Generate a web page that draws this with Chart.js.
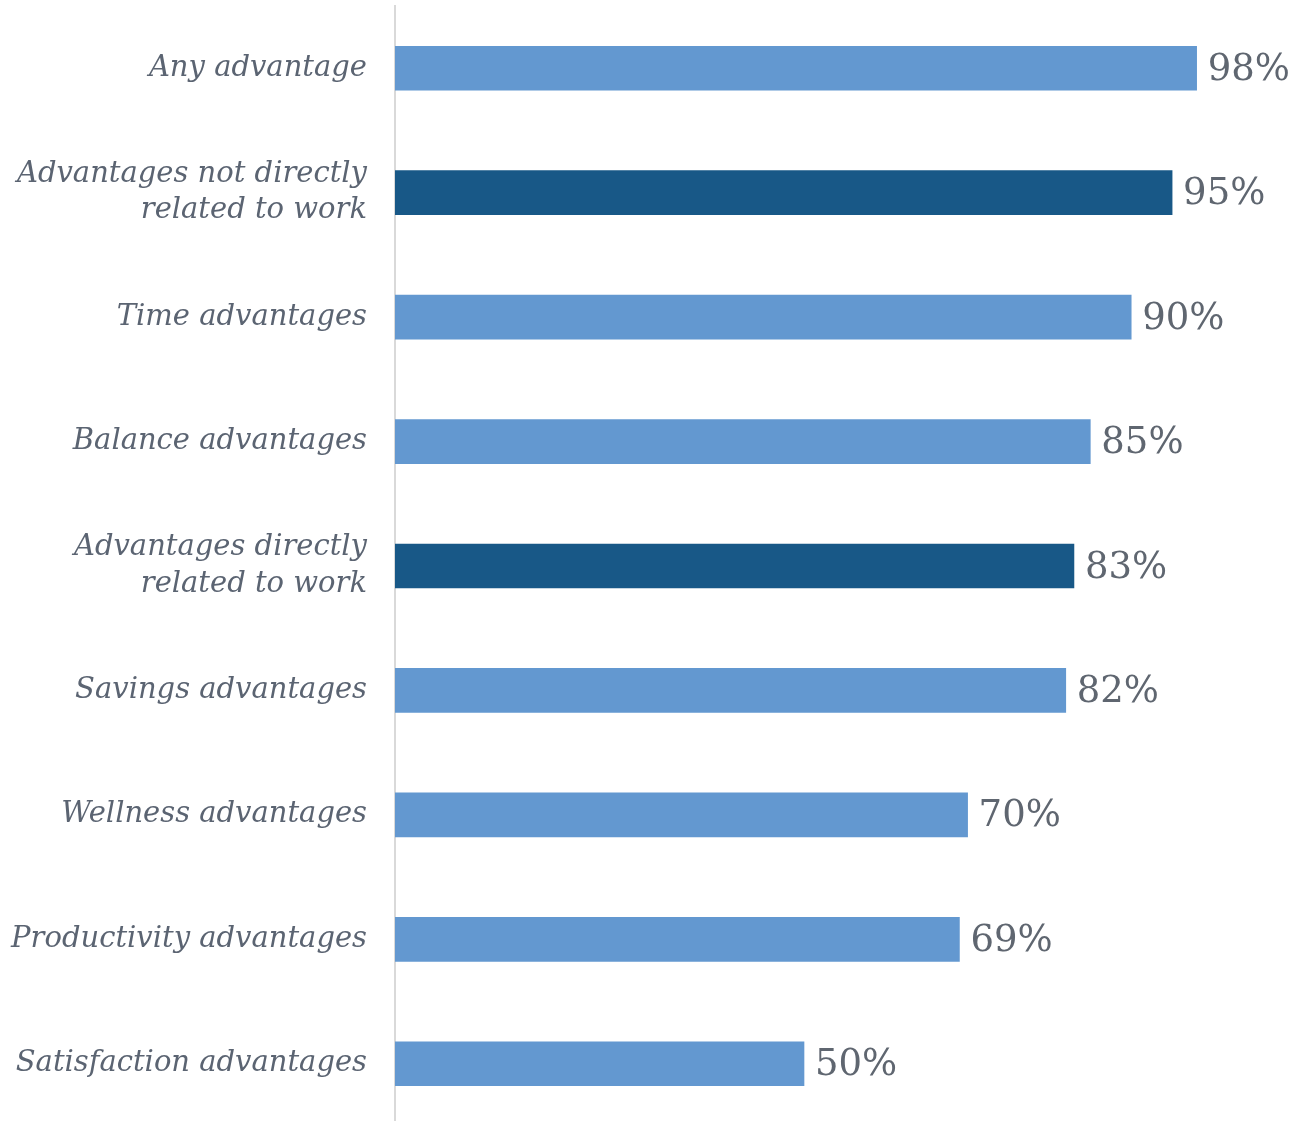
<!DOCTYPE html>
<html>
<head>
<meta charset="utf-8">
<script src="https://cdn.jsdelivr.net/npm/chart.js@4/dist/chart.umd.min.js"></script>
<style>
  html, body { margin: 0; padding: 0; background: #ffffff; overflow: hidden; }
  #wrap { width: 1291px; height: 1121px; overflow: hidden; }
</style>
</head>
<body>
<div id="wrap"><canvas id="chart" width="1291" height="1126"></canvas></div>
<script>
// Share of respondents reporting each kind of advantage (%)
const categories = [
  'Any advantage',
  ['Advantages not directly', 'related to work'],
  'Time advantages',
  'Balance advantages',
  ['Advantages directly', 'related to work'],
  'Savings advantages',
  'Wellness advantages',
  'Productivity advantages',
  'Satisfaction advantages'
];
const values = [98, 95, 90, 85, 83, 82, 70, 69, 50];
// Summary rows are shown in the darker shade
const isSummary = [false, true, false, false, true, false, false, false, false];

const LIGHT = '#6398d0';
const DARK = '#185887';
const TEXT = '#5b6472';

const valueLabels = {
  id: 'valueLabels',
  afterDatasetsDraw(chart) {
    const ctx = chart.ctx;
    const meta = chart.getDatasetMeta(0);
    ctx.save();
    ctx.font = '37px "DejaVu Serif", serif';
    ctx.fillStyle = '#5f6670';
    ctx.textAlign = 'left';
    ctx.textBaseline = 'middle';
    meta.data.forEach((bar, i) => {
      ctx.fillText(values[i] + '%', bar.x + 11, bar.y + 2);
    });
    ctx.restore();
  }
};

new Chart(document.getElementById('chart'), {
  type: 'bar',
  data: {
    labels: categories,
    datasets: [{
      data: values,
      backgroundColor: isSummary.map(d => d ? DARK : LIGHT),
      borderWidth: 0,
      barThickness: 44
    }]
  },
  options: {
    indexAxis: 'y',
    responsive: false,
    animation: false,
    layout: { padding: { top: 6, right: 78, bottom: 0, left: 0 } },
    plugins: {
      legend: { display: false },
      tooltip: { enabled: false }
    },
    scales: {
      x: {
        display: false,
        min: 0,
        max: 100
      },
      y: {
        afterFit(scale) {
          scale.width = 395;
          scale.paddingTop = 0;
          scale.paddingBottom = 0;
        },
        grid: { display: true, drawOnChartArea: false, drawTicks: false },
        border: { display: true, color: '#d9d9d9', width: 2 },
        ticks: {
          padding: 28,
          color: TEXT,
          font: { family: '"DejaVu Serif", serif', style: 'italic', size: 29, lineHeight: 1.25 }
        }
      }
    }
  },
  plugins: [valueLabels]
});
</script>
</body>
</html>
